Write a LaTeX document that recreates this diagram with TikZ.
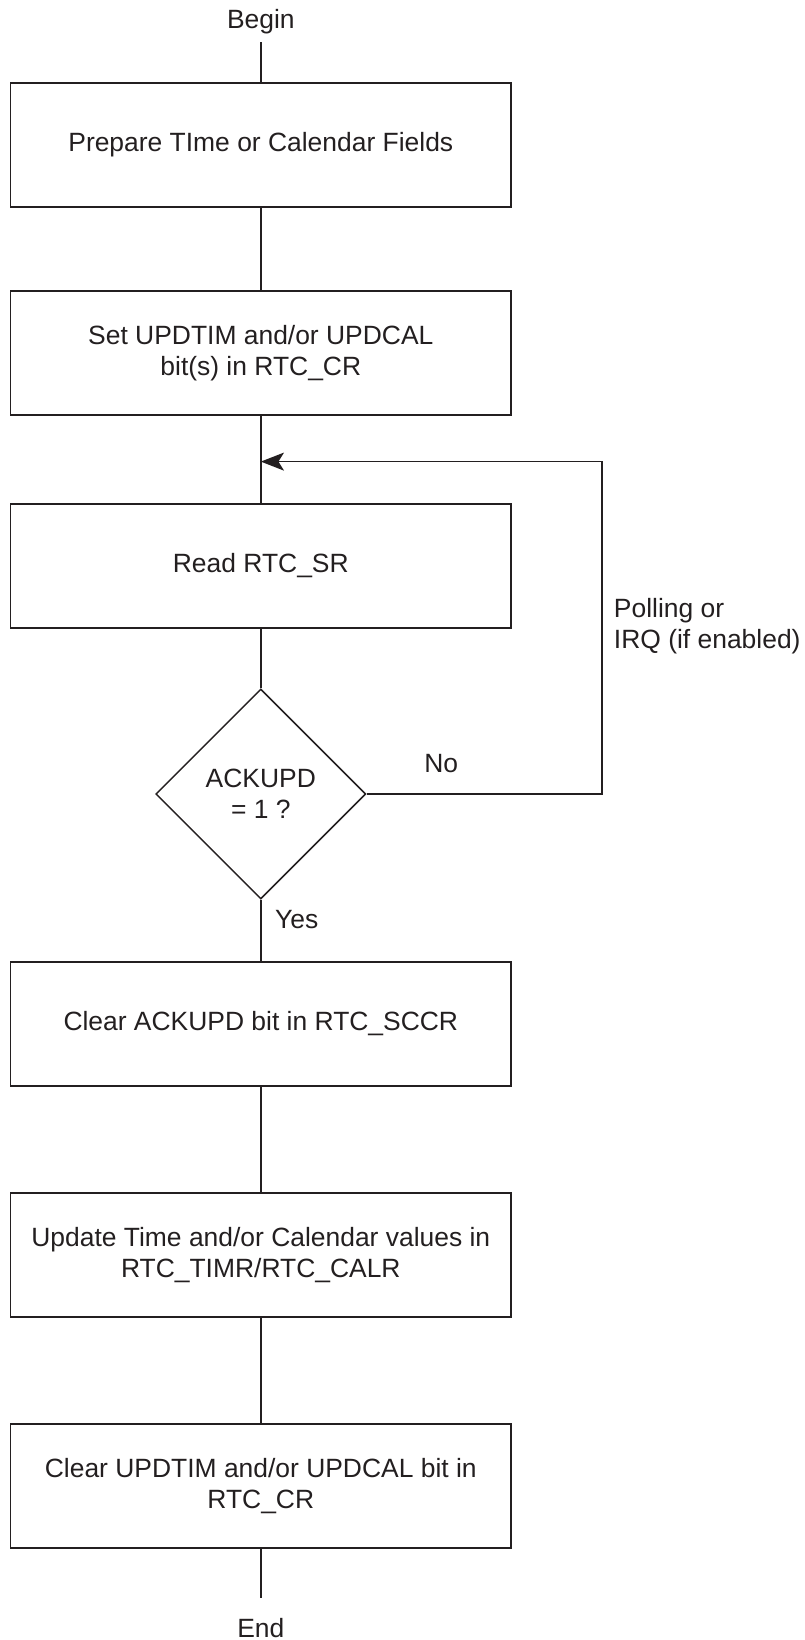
\documentclass[tikz,border=0pt]{standalone}
\usepackage{fontspec}
\setmainfont{Liberation Sans}
\usepackage{tikz}
\usetikzlibrary{shapes.geometric,arrows.meta}
\definecolor{FlowInk}{HTML}{231F20}
\tikzset{>={Stealth[length=0.58cm,width=0.45cm,inset=0.14cm]}}
\tikzset{
	stepbox/.style={draw=FlowInk, rectangle, minimum width=12.51cm, minimum height=3.1cm, inner sep=2pt, align=center, text=FlowInk},
	decision/.style={draw=FlowInk, diamond, aspect=1, minimum width=5.25cm, minimum height=5.25cm, inner sep=0pt, align=center, text=FlowInk},
	tag/.style={text=FlowInk, inner sep=0pt}
}

\begin{document}
\begin{tikzpicture}[line width=1.1pt, draw=FlowInk, font=\fontsize{18.8}{21.8}\selectfont]
		% Frame
		\useasboundingbox (0,0) rectangle (20.125,-41);
		
		% Steps
		\node[tag] (begin) at (6.52,-0.55) {Begin};
		\node[stepbox] (prep) at (6.52,-3.625) {Prepare TIme or Calendar Fields};
		\node[stepbox] (setcr) at (6.52,-8.825) {Set UPDTIM and/or UPDCAL\\bit(s) in RTC\_CR};
		\node[stepbox] (readsr) at (6.52,-14.15) {Read RTC\_SR};
		\node[decision] (ack) at (6.52,-19.85) {ACKUPD\\= 1 ?};
		\node[stepbox] (clrack) at (6.52,-25.6) {Clear ACKUPD bit in RTC\_SCCR};
		\node[stepbox] (update) at (6.52,-31.375) {Update Time and/or Calendar values in\\RTC\_TIMR/RTC\_CALR};
		\node[stepbox] (clrupd) at (6.52,-37.15) {Clear UPDTIM and/or UPDCAL bit in\\RTC\_CR};
		\node[tag] (end) at (6.52,-40.7) {End};
		\coordinate (stop) at (6.52,-39.95);
		
		% Loop points
		\coordinate (join) at (6.52,-11.54);
		\coordinate (turn) at (15.05,-11.54);
		
		% Connectors
		\draw[shorten <=0.18cm] (begin) -- (prep);
		\draw (prep) -- (setcr);
		\draw (setcr) -- (readsr);
		\draw (readsr) -- (ack);
		\draw (ack) -- (clrack);
		\draw (clrack) -- (update);
		\draw (update) -- (clrupd);
		\draw (clrupd) -- (stop);
		\draw[->] (ack.east) -| (turn) -- (join);
		
		% Labels
		\node[tag] (no) at (11.03,-19.08) {No};
		\node[tag] (yes) at (7.42,-23.0) {Yes};
		\node[tag, anchor=west, align=left] (poll) at (15.33,-15.66) {Polling or\\IRQ (if enabled)};
	\end{tikzpicture}
\end{document}
